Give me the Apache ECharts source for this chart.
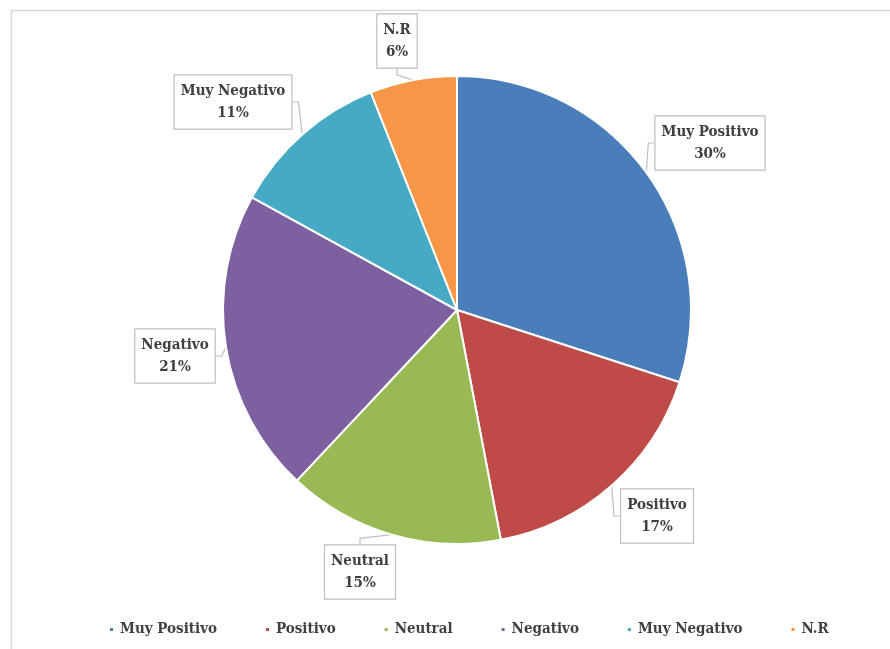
<!DOCTYPE html>
<html>
<head>
<meta charset="utf-8">
<script src="https://cdn.jsdelivr.net/npm/echarts@6/dist/echarts.min.js"></script>
<style>
  html, body { margin: 0; padding: 0; background: #ffffff; }
  #chart { width: 890px; height: 649px; }
</style>
</head>
<body>
<div id="chart"></div>
<script>
// Categories and their shares (%)
const categories = ['Muy Positivo', 'Positivo', 'Neutral', 'Negativo', 'Muy Negativo', 'N.R'];
const shares = [30, 17, 15, 21, 11, 6];
const colors = ['#4a7ebb', '#be4b48', '#98b954', '#7d60a0', '#46aac5', '#f79646'];

// Callout box centres for each slice label
const calloutPos = [
  [710, 143], [657, 516], [360, 572], [175, 356], [233, 102], [397, 41]
];

const chart = echarts.init(document.getElementById('chart'), null, { renderer: 'canvas' });

const labelFont = '"DejaVu Serif Condensed", "DejaVu Serif", serif';

chart.setOption({
  animation: false,
  backgroundColor: '#ffffff',
  color: colors,
  graphic: [{
    type: 'rect',
    shape: { x: 11.5, y: 10.5, width: 900, height: 700 },
    style: { fill: 'none', stroke: '#d9d9d9', lineWidth: 1.5 },
    silent: true
  }],
  legend: {
    top: 617,
    left: 103,
    icon: 'rect',
    itemWidth: 5,
    itemHeight: 5,
    itemGap: 47,
    textStyle: { fontFamily: labelFont, fontWeight: 'bold', fontSize: 15, color: '#404040', padding: [0, 0, 0, 1] },
    data: categories
  },
  series: [{
    type: 'pie',
    center: [457, 310],
    radius: [0, 234],
    startAngle: 90,
    clockwise: true,
    itemStyle: { borderColor: '#ffffff', borderWidth: 2 },
    label: {
      show: true,
      position: 'outside',
      formatter: p => p.name + '\n' + p.value + '%',
      fontFamily: labelFont,
      fontWeight: 'bold',
      fontSize: 15,
      lineHeight: 22,
      color: '#404040',
      align: 'center',
      backgroundColor: '#ffffff',
      borderColor: '#bfbfbf',
      borderWidth: 1.2,
      padding: [5, 6, 4, 6]
    },
    labelLine: {
      show: true,
      length: 8,
      length2: 6,
      lineStyle: { color: '#bfbfbf', width: 1.2 }
    },
    labelLayout: function (params) {
      const p = calloutPos[params.dataIndex];
      return { x: p[0], y: p[1], align: 'center', verticalAlign: 'middle' };
    },
    data: categories.map((name, i) => ({ name: name, value: shares[i] }))
  }]
});
</script>
</body>
</html>
